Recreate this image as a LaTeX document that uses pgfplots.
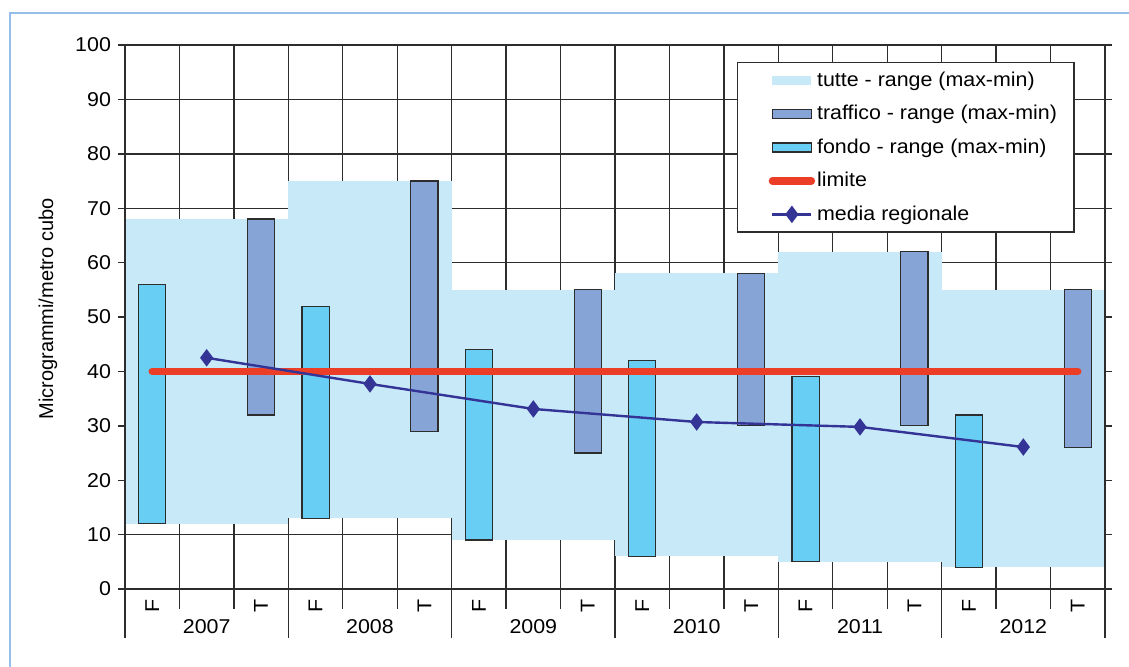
\documentclass[border=0pt]{standalone}
\usepackage{fontspec}
\setmainfont[FakeStretch=1.07]{Liberation Sans}
\newfontfamily\plainsans{Liberation Sans}
\usepackage{pgfplots}
\pgfplotsset{compat=1.18}
\definecolor{tutteC}{RGB}{200,233,248}
\definecolor{traffC}{RGB}{134,165,214}
\definecolor{fondoC}{RGB}{104,206,243}
\definecolor{limC}{RGB}{236,62,38}
\definecolor{medC}{RGB}{52,52,150}
\definecolor{gridC}{RGB}{45,45,45}
\definecolor{frameC}{RGB}{150,190,235}
\pgfplotsset{
 rectleg/.style={legend image code/.code={\path (0pt,0pt); \path (8pt,-2.2pt) rectangle (27.5pt,2.2pt);}},
 lineleg/.style={legend image code/.code={\path (0pt,0pt); \draw[mark repeat=2,mark phase=2] plot coordinates {(8pt,0pt) (17.75pt,0pt) (27.5pt,0pt)};}},
}
% floating range bar: x-left, x-right, min, max, style
\newcommand{\rng}[5]{\addplot[#5,forget plot] coordinates {(#1,#3) (#2,#3) (#2,#4) (#1,#4)} --cycle;}

\begin{document}
\fontsize{10}{12}\selectfont
\begin{tikzpicture}[font=\fontsize{10}{12}\selectfont]
\path[use as bounding box] (-62.5pt,-38.5pt) rectangle (502pt,294.5pt);
\draw[frameC,line width=1.2pt] (-57.5pt,-40pt) -- (-57.5pt,288pt) -- (504pt,288pt);
\begin{axis}[width=490pt,height=272pt,scale only axis,
 xmin=0,xmax=18,ymin=0,ymax=100,
 xtick={0,...,18},xticklabels={},xtick style={draw=none},
 ytick={0,10,...,100},tick align=outside,major tick length=3.5pt,
 ytick style={gridC,line width=0.7pt},
 grid=major,major grid style={gridC,line width=0.7pt},
 axis line style={gridC,line width=0.7pt},
 /pgf/number format/assume math mode=true,
 legend cell align=left,
 legend style={at={(0.6245,0.9688)},anchor=north west,draw=gridC,line width=0.7pt,
  inner xsep=7.5pt,inner ysep=2.5pt,row sep=4pt,
  nodes={inner xsep=1pt,inner ysep=2pt}},
]
\addlegendimage{rectleg,fill=tutteC,draw=none}
\addlegendentry{tutte - range (max-min)}
\addlegendimage{rectleg,fill=traffC,draw=gridC,line width=0.8pt}
\addlegendentry{traffico - range (max-min)}
\addlegendimage{rectleg,fill=fondoC,draw=gridC,line width=0.8pt}
\addlegendentry{fondo - range (max-min)}
\addlegendimage{lineleg,limC,line width=3.7pt,line cap=round}
\addlegendentry{limite}
\addlegendimage{lineleg,medC,line width=1.2pt,mark=diamond*,mark size=3.4pt,mark options={fill=medC}}
\addlegendentry{media regionale}
% tutte (all stations) per year
\rng{0}{3}{12}{68}{fill=tutteC,draw=none}
\rng{3}{6}{13}{75}{fill=tutteC,draw=none}
\rng{6}{9}{9}{55}{fill=tutteC,draw=none}
\rng{9}{12}{6}{58}{fill=tutteC,draw=none}
\rng{12}{15}{5}{62}{fill=tutteC,draw=none}
\rng{15}{18}{4}{55}{fill=tutteC,draw=none}
% fondo
\rng{0.25}{0.75}{12}{56}{fill=fondoC,draw=gridC,line width=0.6pt}
\rng{3.25}{3.75}{13}{52}{fill=fondoC,draw=gridC,line width=0.6pt}
\rng{6.25}{6.75}{9}{44}{fill=fondoC,draw=gridC,line width=0.6pt}
\rng{9.25}{9.75}{6}{42}{fill=fondoC,draw=gridC,line width=0.6pt}
\rng{12.25}{12.75}{5}{39}{fill=fondoC,draw=gridC,line width=0.6pt}
\rng{15.25}{15.75}{4}{32}{fill=fondoC,draw=gridC,line width=0.6pt}
% traffico
\rng{2.25}{2.75}{32}{68}{fill=traffC,draw=gridC,line width=0.6pt}
\rng{5.25}{5.75}{29}{75}{fill=traffC,draw=gridC,line width=0.6pt}
\rng{8.25}{8.75}{25}{55}{fill=traffC,draw=gridC,line width=0.6pt}
\rng{11.25}{11.75}{30}{58}{fill=traffC,draw=gridC,line width=0.6pt}
\rng{14.25}{14.75}{30}{62}{fill=traffC,draw=gridC,line width=0.6pt}
\rng{17.25}{17.75}{26}{55}{fill=traffC,draw=gridC,line width=0.6pt}
% limite
\addplot[limC,line width=3.7pt,line cap=round,forget plot] coordinates {(0.5,40) (17.5,40)};
% media regionale
\addplot[medC,line width=1.2pt,mark=diamond*,mark size=3.4pt,mark options={fill=medC},forget plot]
 coordinates {(1.5,42.5) (4.5,37.7) (7.5,33.1) (10.5,30.7) (13.5,29.8) (16.5,26.1)};
\draw[gridC,line width=0.7pt] (rel axis cs:0,0) rectangle (rel axis cs:1,1);
\end{axis}
% category separators and labels below the axis
\foreach \i in {0,...,18} {
 \pgfmathtruncatemacro\r{mod(\i,3)}
 \ifnum\r=0
  \draw[gridC,line width=0.7pt] ({\i*27.2222pt},0pt) -- ++(0,-24.5pt);
 \else
  \draw[gridC,line width=0.7pt] ({\i*27.2222pt},0pt) -- ++(0,-10pt);
 \fi
}
\foreach \y [count=\k from 0] in {2007,2008,2009,2010,2011,2012} {
 \node at ({(3*\k+1.5)*27.2222pt},-19pt) {\y};
 \node[rotate=90] at ({(3*\k+0.5)*27.2222pt},-8.5pt) {F};
 \node[rotate=90] at ({(3*\k+2.5)*27.2222pt},-8.5pt) {T};
}
\node[rotate=90,font=\plainsans\fontsize{10}{12}\selectfont] at (-38.5pt,140pt) {Microgrammi/metro cubo};
\end{tikzpicture}
\end{document}
